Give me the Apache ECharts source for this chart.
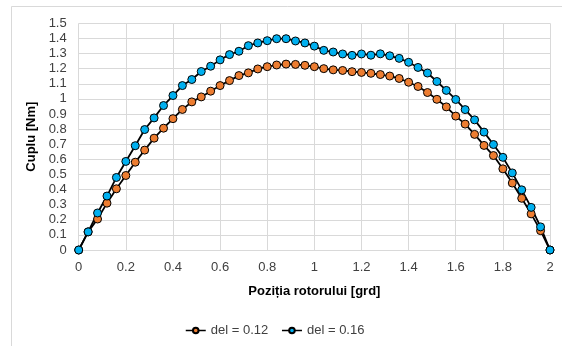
<!DOCTYPE html>
<html>
<head>
<meta charset="utf-8">
<script src="https://cdn.jsdelivr.net/npm/echarts@6/dist/echarts.min.js"></script>
<style>
html,body{margin:0;padding:0;background:#fff;}
#c{width:562px;height:346px;}
</style>
</head>
<body>
<div id="c"></div>
<script>
const positions = [0,0.04,0.08,0.12,0.16,0.20,0.24,0.28,0.32,0.36,0.40,0.44,0.48,0.52,0.56,0.60,0.64,0.68,0.72,0.76,0.80,0.84,0.88,0.92,0.96,1.00,1.04,1.08,1.12,1.16,1.20,1.24,1.28,1.32,1.36,1.40,1.44,1.48,1.52,1.56,1.60,1.64,1.68,1.72,1.76,1.80,1.84,1.88,1.92,1.96,2.00];
const del012 = [0,0.12,0.205,0.31,0.405,0.493,0.581,0.661,0.74,0.806,0.869,0.93,0.98,1.013,1.051,1.088,1.121,1.154,1.172,1.198,1.213,1.224,1.23,1.228,1.222,1.213,1.2,1.192,1.188,1.18,1.175,1.169,1.161,1.151,1.135,1.11,1.082,1.042,0.997,0.947,0.886,0.833,0.765,0.692,0.625,0.537,0.443,0.342,0.239,0.128,0];
const del016 = [0,0.12,0.245,0.357,0.48,0.586,0.69,0.797,0.874,0.956,1.022,1.088,1.128,1.181,1.216,1.258,1.293,1.315,1.352,1.37,1.385,1.398,1.398,1.383,1.37,1.349,1.321,1.31,1.297,1.288,1.297,1.289,1.298,1.285,1.268,1.242,1.208,1.171,1.115,1.056,0.996,0.929,0.861,0.78,0.698,0.613,0.51,0.398,0.282,0.153,0];
const seriesNames = ['del = 0.12','del = 0.16'];
const seriesColors = ['#ED7D31','#00B0F0'];
const xAxisTitle = 'Poziția rotorului [grd]';
const yAxisTitle = 'Cuplu [Nm]';

const chart = echarts.init(document.getElementById('c'), null, {renderer:'canvas'});
const font = 'Liberation Sans, Arial, sans-serif';
function mk(name, vals, color){
  return {
    name: name, type:'line',
    data: positions.map((x,i)=>[x, vals[i]]),
    symbol:'circle', symbolSize:8,
    itemStyle:{color:color, borderColor:'#000', borderWidth:1},
    lineStyle:{color:'#000', width:1.8},
    emphasis:{disabled:true},
    animation:false
  };
}
chart.setOption({
  animation:false,
  backgroundColor:'#fff',
  graphic:[{type:'rect', shape:{x:11.5,y:6.5,width:700,height:500}, style:{fill:'none', stroke:'#d9d9d9', lineWidth:1}, silent:true, z:-10}],
  grid:{left:78.7, right:12, top:23.3, bottom:96},
  xAxis:{
    type:'value', min:0, max:2, interval:0.2,
    name:xAxisTitle, nameLocation:'middle', nameGap:35,
    nameTextStyle:{fontFamily:font, fontSize:13, fontWeight:'bold', color:'#000'},
    axisLine:{show:true, lineStyle:{color:'#d9d9d9'}},
    axisTick:{show:false},
    axisLabel:{fontFamily:font, fontSize:13, color:'#404040', margin:11},
    splitLine:{show:true, lineStyle:{color:'#d9d9d9', width:1}}
  },
  yAxis:{
    type:'value', min:0, max:1.5, interval:0.1,
    name:yAxisTitle, nameLocation:'middle', nameGap:35, nameRotate:90,
    nameTextStyle:{fontFamily:font, fontSize:13, fontWeight:'bold', color:'#000'},
    axisLine:{show:false},
    axisTick:{show:false},
    axisLabel:{fontFamily:font, fontSize:13, color:'#404040', margin:12},
    splitLine:{show:true, lineStyle:{color:'#d9d9d9', width:1}}
  },
  legend:{
    left:180, top:319, itemWidth:20, itemHeight:7, itemGap:13,
    lineStyle:{width:1.5},
    textStyle:{fontFamily:font, fontSize:13, color:'#404040'},
    data:seriesNames
  },
  series:[mk(seriesNames[0], del012, seriesColors[0]), mk(seriesNames[1], del016, seriesColors[1])]
});
</script>
</body>
</html>
